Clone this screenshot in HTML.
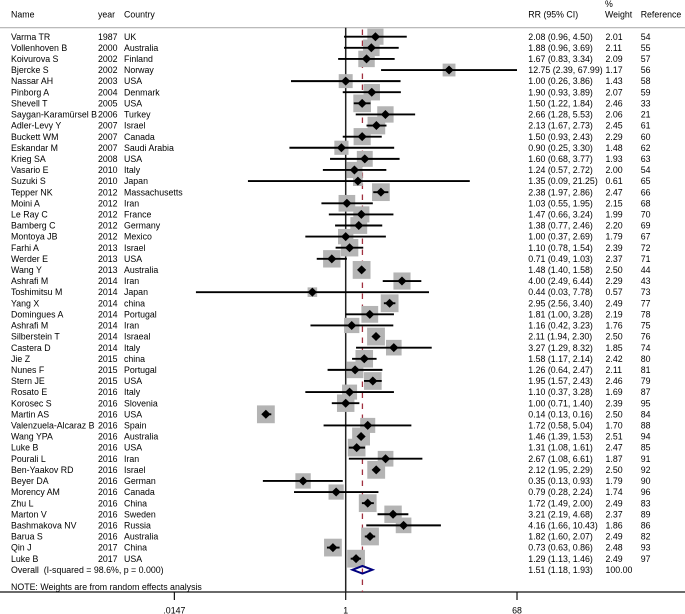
<!DOCTYPE html>
<html lang="en">
<head>
<meta charset="utf-8">
<title>Forest plot</title>
<style>
html,body{margin:0;padding:0;background:#fff;width:685px;height:614px;overflow:hidden}
svg{display:block;filter:blur(0.35px)}
text{font-family:"Liberation Sans",Arial,sans-serif;font-size:8.8px;fill:#000}
</style>
</head>
<body>
<svg id="plot" xmlns="http://www.w3.org/2000/svg" width="685" height="614" viewBox="0 0 685 614">
  <rect x="0" y="0" width="685" height="614" fill="#fff"/>
  <text x="11" y="17.7">Name</text>
  <text x="98" y="17.7">year</text>
  <text x="124" y="17.7">Country</text>
  <text x="528.3" y="17.7">RR (95% CI)</text>
  <text x="605" y="6.8">%</text>
  <text x="605" y="17.7">Weight</text>
  <text x="640.7" y="17.7">Reference</text>
  <line x1="0" x2="685" y1="27.7" y2="27.7" stroke="#b0b0b0" stroke-width="1.1"/>
  <line x1="0" x2="685" y1="592" y2="592" stroke="#111" stroke-width="1.2"/>
  <text x="11" y="589.8">NOTE: Weights are from random effects analysis</text>
  <g id="marks"></g>
  <g id="rows"></g>
  <g id="axis"></g>
</svg>
<script>
const studyNames = ["Varma TR","Vollenhoven B","Koivurova S","Bjercke S","Nassar AH","Pinborg A","Shevell T","Saygan-Karamürsel B","Adler-Levy Y","Buckett WM","Eskandar M","Krieg SA","Vasario E","Suzuki S","Tepper NK","Moini A","Le Ray C","Bamberg C","Montoya JB","Farhi A","Werder E","Wang Y","Ashrafi M","Toshimitsu M","Yang X","Domingues A","Ashrafi M","Silberstein T","Castera D","Jie Z","Nunes F","Stern JE","Rosato E","Korosec S","Martin AS","Valenzuela-Alcaraz B","Wang YPA","Luke B","Pourali L","Ben-Yaakov RD","Beyer DA","Morency AM","Zhu L","Marton V","Bashmakova NV","Barua S","Qin J","Luke B"];
const studyYears = [1987,2000,2002,2002,2003,2004,2005,2006,2007,2007,2007,2008,2010,2010,2012,2012,2012,2012,2012,2013,2013,2013,2014,2014,2014,2014,2014,2014,2014,2015,2015,2015,2016,2016,2016,2016,2016,2016,2016,2016,2016,2016,2016,2016,2016,2016,2017,2017];
const studyCountries = ["UK","Australia","Finland","Norway","USA","Denmark","USA","Turkey","Israel","Canada","Saudi Arabia","USA","Italy","Japan","Massachusetts","Iran","France","Germany","Mexico","Israel","USA","Australia","Iran","Japan","china","Portugal","Iran","Israeal","Italy","china","Portugal","USA","Italy","Slovenia","USA","Spain","Australia","USA","Iran","Israel","German","Canada","China","Sweden","Russia","Australia","China","USA"];
const rrValues = [2.08,1.88,1.67,12.75,1.00,1.90,1.50,2.66,2.13,1.50,0.90,1.60,1.24,1.35,2.38,1.03,1.47,1.38,1.00,1.10,0.71,1.48,4.00,0.44,2.95,1.81,1.16,2.11,3.27,1.58,1.26,1.95,1.10,1.00,0.14,1.72,1.46,1.31,2.67,2.12,0.35,0.79,1.72,3.21,4.16,1.82,0.73,1.29];
const ciLower = [0.96,0.96,0.83,2.39,0.26,0.93,1.22,1.28,1.67,0.93,0.25,0.68,0.57,0.09,1.97,0.55,0.66,0.77,0.37,0.78,0.49,1.40,2.49,0.025,2.56,1.00,0.42,1.94,1.29,1.17,0.64,1.57,0.37,0.71,0.13,0.58,1.39,1.08,1.08,1.95,0.13,0.28,1.49,2.19,1.66,1.60,0.63,1.13];
const ciUpper = [4.50,3.69,3.34,67.99,3.86,3.89,1.84,5.53,2.73,2.43,3.30,3.77,2.72,21.25,2.86,1.95,3.24,2.46,2.69,1.54,1.03,1.58,6.44,7.78,3.40,3.28,3.23,2.30,8.32,2.14,2.47,2.43,3.28,1.40,0.16,5.04,1.53,1.61,6.61,2.29,0.93,2.24,2.00,4.68,10.43,2.07,0.86,1.46];
const weights = [2.01,2.11,2.09,1.17,1.43,2.07,2.46,2.06,2.45,2.29,1.48,1.93,2.00,0.61,2.47,2.15,1.99,2.20,1.79,2.39,2.37,2.50,2.29,0.57,2.49,2.19,1.76,2.50,1.85,2.42,2.11,2.46,1.69,2.39,2.50,1.70,2.51,2.47,1.87,2.50,1.79,1.74,2.49,2.37,1.86,2.49,2.48,2.49];
const references = [54,55,57,56,58,59,33,21,61,60,62,63,54,65,66,68,70,69,67,72,71,44,43,73,77,78,75,76,74,80,81,79,87,95,84,88,94,85,91,92,90,96,83,89,86,82,93,97];
const overallLabel = "Overall  (I-squared = 98.6%, p = 0.000)";
const overallRR = 1.51;
const overallLower = 1.18;
const overallUpper = 1.93;
const overallWeight = "100.00";
const tickValues = [0.0147,1,68];
const tickLabels = [".0147","1","68"];

const NS = "http://www.w3.org/2000/svg";
const xOfRR = v => 345.7 + 40.6 * Math.log(v);
const yOfRow = i => 36.7 + 11.106 * i;
const boxSide = w => 2 + 10 * Math.sqrt(w);
const fmtCI = (r,l,u) => r.toFixed(2) + " (" + l.toFixed(2) + ", " + u.toFixed(2) + ")";

function make(parent, tag, attrs, txt) {
  const el = document.createElementNS(NS, tag);
  for (const k in attrs) el.setAttribute(k, attrs[k]);
  if (txt !== undefined) {
    el.textContent = txt;
    el.style.whiteSpace = "pre";
  }
  parent.appendChild(el);
  return el;
}

const marks = document.getElementById("marks");
const rows = document.getElementById("rows");
const axis = document.getElementById("axis");
const axisY = 592;

const nullLine = make(marks, "line", {x1:xOfRR(1), x2:xOfRR(1), y1:27.7, y2:axisY, stroke:"#222", "stroke-width":1.5});



const overallLine = make(marks, "line", {x1:xOfRR(overallRR), x2:xOfRR(overallRR), y1:29.5, y2:axisY, stroke:"#a0303f", "stroke-width":1.3, "stroke-dasharray":"5.5 5.5"});



rrValues.forEach((rr, i) => {
  const y = yOfRow(i);
  const s = boxSide(weights[i]);
  const box = make(marks, "rect", {x:xOfRR(rr)-s/2, y:y-s/2, width:s, height:s, fill:"#b4b4b4"});
  
  
});

rrValues.forEach((rr, i) => {
  const y = yOfRow(i);
  const cx = xOfRR(rr);
  const ci = make(marks, "line", {x1:xOfRR(ciLower[i]), x2:xOfRR(ciUpper[i]), y1:y, y2:y, stroke:"#000", "stroke-width":1.9});
  
  
  const d = make(marks, "polygon", {points:[[cx-4.6,y],[cx,y-4.5],[cx+4.6,y],[cx,y+4.5]].join(" "), fill:"#000"});
  
  

  const t1 = make(rows, "text", {x:11, y:y+3.1}, studyNames[i]);
  
  
  const t2 = make(rows, "text", {x:98, y:y+3.1}, String(studyYears[i]));
  
  
  const t3 = make(rows, "text", {x:124, y:y+3.1}, studyCountries[i]);
  
  
  const t4 = make(rows, "text", {x:528.3, y:y+3.1}, fmtCI(rr, ciLower[i], ciUpper[i]));
  
  
  const t5 = make(rows, "text", {x:605.5, y:y+3.1}, weights[i].toFixed(2));
  
  
  const t6 = make(rows, "text", {x:640.7, y:y+3.1}, String(references[i]));
  
  
});

const oy = yOfRow(rrValues.length);
const oDiamond = make(marks, "polygon", {points:[[xOfRR(overallLower),oy],[xOfRR(overallRR),oy-3.8],[xOfRR(overallUpper),oy],[xOfRR(overallRR),oy+3.8]].join(" "), fill:"none", stroke:"#00007f", "stroke-width":2});


const oLabel = make(rows, "text", {x:11, y:oy+3.1}, overallLabel);


const oRR = make(rows, "text", {x:528.3, y:oy+3.1}, fmtCI(overallRR, overallLower, overallUpper));


const oW = make(rows, "text", {x:605.5, y:oy+3.1}, overallWeight);



tickValues.forEach((v, i) => {
  const x = xOfRR(v);
  const t = make(axis, "line", {x1:x, x2:x, y1:axisY, y2:axisY+8, stroke:"#111", "stroke-width":1.2});
  
  
  const l = make(axis, "text", {x:x, y:613.4, "text-anchor":"middle"}, tickLabels[i]);
  
  
});
</script>
</body>
</html>
